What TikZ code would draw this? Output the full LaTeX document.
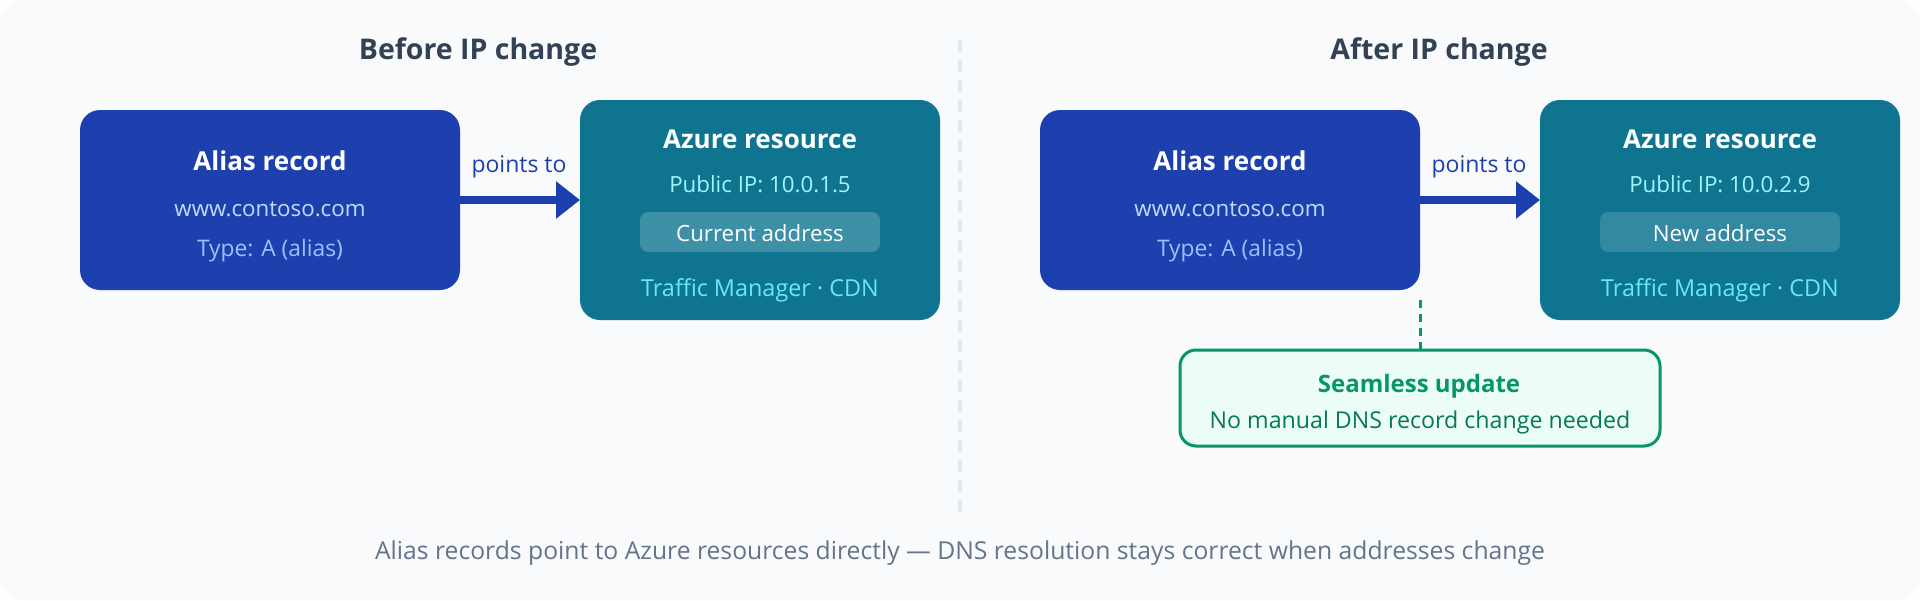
\documentclass[tikz,border=0pt]{standalone}
\usepackage{fontspec}
\setmainfont{Open Sans}
\usetikzlibrary{arrows.meta}

\definecolor{panelbg}{HTML}{F8FAFC}
\definecolor{headtext}{HTML}{334155}
\definecolor{aliasblue}{HTML}{1E40AF}
\definecolor{azureteal}{HTML}{0E7490}
\definecolor{webtext}{HTML}{BFDBFE}
\definecolor{typetext}{HTML}{93C5FD}
\definecolor{iptext}{HTML}{A5F3FC}
\definecolor{svctext}{HTML}{67E8F9}
\definecolor{splitline}{HTML}{E2E8F0}
\definecolor{notegreen}{HTML}{059669}
\definecolor{notefill}{HTML}{ECFDF5}
\definecolor{notetext}{HTML}{047857}
\definecolor{foottext}{HTML}{64748B}

\newcommand{\pxfont}[1]{\fontsize{#1}{#1}\selectfont}

\tikzset{
    label/.style={anchor=base, inner sep=0pt, outer sep=0pt},
    heading/.style={label, text=headtext, font=\pxfont{28.5}\bfseries},
    boxtitle/.style={label, text=white, font=\pxfont{26}\bfseries},
    boxtext/.style={label, font=\pxfont{22.3}},
    aliasbox/.style={fill=aliasblue, rounded corners=20pt, minimum width=380pt, minimum height=180pt, inner sep=0pt, outer sep=0pt},
    azurebox/.style={fill=azureteal, rounded corners=20pt, minimum width=360pt, minimum height=220pt, inner sep=0pt, outer sep=0pt},
    addrbox/.style={rounded corners=8pt, minimum width=240pt, minimum height=40pt, inner sep=0pt, outer sep=0pt},
    pointer/.style={draw=aliasblue, line width=8pt, -{Triangle[length=24pt, width=36pt]}},
    svctext/.style={boxtext, text=svctext, font=\pxfont{23.4}},
    typeline/.style={boxtext, text=typetext, font=\pxfont{22.8}},
    pointtext/.style={boxtext, text=aliasblue, font=\pxfont{23}},
}

\begin{document}
\begin{tikzpicture}[x=1pt, y=-1pt]
    \useasboundingbox (0, 0) rectangle (1920, 600);
    \fill[panelbg, rounded corners=24pt] (0, 0) rectangle (1920, 600);
    \draw[splitline, line width=4pt, dash pattern=on 12pt off 8pt] (960, 40) -- (960, 512);

    % before
    \node[heading] (headA) at (478, 59) {Before IP change};
    \node[aliasbox] (aliasA) at (270, 200) {};
    \node[azurebox] (azureA) at (760, 210) {};
    \node[addrbox, fill=white!20!azureteal] (addrA) at (760, 232) {};
    \node[boxtitle] (aliasAname) at (270, 170) {Alias record};
    \node[boxtext, text=webtext] (aliasAweb) at (270, 216) {www.contoso.com};
    \node[typeline] (aliasAtype) at (270, 256) {Type: A (alias)};
    \node[boxtitle] (azureAname) at (760, 148) {Azure resource};
    \node[boxtext, text=iptext] (azureAip) at (760, 192) {Public IP: 10.0.1.5};
    \node[boxtext, text=white] (addrAtext) at (760, 241) {Current address};
    \node[svctext] (azureAsvc) at (760, 296) {Traffic Manager · CDN};
    \draw[pointer] (aliasA.east) -- (aliasA.east -| azureA.west);
    \node[pointtext] (pointsA) at (519, 172) {points to};

    % after
    \node[heading] (headB) at (1439, 59) {After IP change};
    \node[aliasbox] (aliasB) at (1230, 200) {};
    \node[azurebox] (azureB) at (1720, 210) {};
    \node[addrbox, fill=white!15!azureteal] (addrB) at (1720, 232) {};
    \node[boxtitle] (aliasBname) at (1230, 170) {Alias record};
    \node[boxtext, text=webtext] (aliasBweb) at (1230, 216) {www.contoso.com};
    \node[typeline] (aliasBtype) at (1230, 256) {Type: A (alias)};
    \node[boxtitle] (azureBname) at (1720, 148) {Azure resource};
    \node[boxtext, text=iptext] (azureBip) at (1720, 192) {Public IP: 10.0.2.9};
    \node[boxtext, text=white] (addrBtext) at (1720, 241) {New address};
    \node[svctext] (azureBsvc) at (1720, 296) {Traffic Manager · CDN};
    \draw[pointer] (aliasB.east) -- (aliasB.east -| azureB.west);
    \node[pointtext] (pointsB) at (1479, 172) {points to};

    % callout
    \node[draw=notegreen, fill=notefill, line width=3pt, rounded corners=16pt, minimum width=480pt, minimum height=96pt, inner sep=0pt, outer sep=0pt] (note) at (1420, 398) {};
    \coordinate (noteFrom) at (1420, 300);
    \draw[notegreen, line width=3pt, dash pattern=on 8pt off 6pt] (noteFrom) -- (note.north);
    \node[label, text=notegreen, font=\pxfont{24}\bfseries] (noteTitle) at (1419, 392) {Seamless update};
    \node[label, text=notetext, font=\pxfont{23.2}] (noteText) at (1420, 428) {No manual DNS record change needed};

    \node[label, text=foottext, font=\pxfont{24.7}] (foot) at (960, 559) {Alias records point to Azure resources directly — DNS resolution stays correct when addresses change};
\end{tikzpicture}
\end{document}
